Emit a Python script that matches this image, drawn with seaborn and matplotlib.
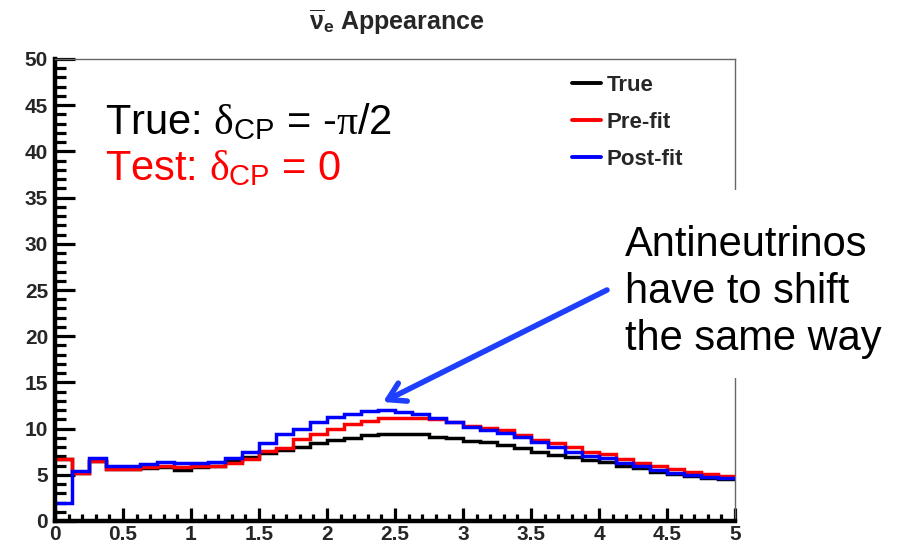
import numpy as np
import pandas as pd
import matplotlib
matplotlib.use("Agg")
import matplotlib.pyplot as plt
import seaborn as sns
from matplotlib.ticker import MultipleLocator
from matplotlib.patches import Rectangle
from matplotlib.lines import Line2D

# ---------------- data ----------------
bin_width = 0.125
x_range = (0.0, 5.0)
true_counts = [6.7, 5.2, 6.5, 5.6, 5.6, 5.7, 5.8, 5.5, 5.8, 6.0,
               6.5, 6.9, 7.4, 7.7, 8.0, 8.4, 8.8, 9.0, 9.3, 9.4,
               9.4, 9.4, 9.1, 9.0, 8.7, 8.5, 8.2, 7.9, 7.5, 7.1,
               6.9, 6.6, 6.4, 5.9, 5.7, 5.3, 5.1, 4.9, 4.6, 4.5]
prefit_counts = [6.7, 5.2, 6.5, 5.6, 5.6, 5.8, 6.0, 5.8, 5.9, 5.9,
                 6.3, 6.7, 7.6, 7.9, 8.9, 9.4, 10.0, 10.5, 10.8, 11.2,
                 11.1, 11.1, 11.0, 10.7, 10.3, 10.1, 9.8, 9.3, 8.8, 8.4,
                 8.0, 7.5, 7.2, 6.7, 6.3, 5.9, 5.6, 5.3, 5.1, 4.9]
postfit_counts = [1.9, 5.4, 6.8, 6.0, 6.0, 6.2, 6.4, 6.3, 6.3, 6.4,
                  6.8, 7.5, 8.4, 9.4, 10.0, 10.7, 11.3, 11.6, 11.9, 12.0,
                  11.8, 11.6, 11.2, 10.7, 10.2, 9.9, 9.5, 9.1, 8.5, 8.0,
                  7.5, 7.0, 6.8, 6.3, 5.9, 5.5, 5.2, 5.0, 4.8, 4.7]
series_names = ["True", "Pre-fit", "Post-fit"]
series_colors = ["#000000", "#ff0000", "#0000ff"]
x_ticks = [0, 0.5, 1, 1.5, 2, 2.5, 3, 3.5, 4, 4.5, 5]
x_tick_labels = ["0", "0.5", "1", "1.5", "2", "2.5", "3", "3.5", "4", "4.5", "5"]
y_ticks = [0, 5, 10, 15, 20, 25, 30, 35, 40, 45, 50]
y_tick_labels = [str(v) for v in y_ticks]

n_bins = len(true_counts)
centers = x_range[0] + bin_width * (np.arange(n_bins) + 0.5)
df = pd.concat([
    pd.DataFrame({"energy": centers, "events": vals, "series": name})
    for name, vals in zip(series_names, [true_counts, prefit_counts, postfit_counts])
], ignore_index=True)

# ---------------- style ----------------
sns.set_theme(style="white")
plt.rcParams["font.family"] = ["Liberation Sans", "DejaVu Sans"]
plt.rcParams["mathtext.fontset"] = "custom"
plt.rcParams["mathtext.rm"] = "Liberation Sans"
plt.rcParams["mathtext.it"] = "Liberation Serif"
plt.rcParams["mathtext.bf"] = "Liberation Sans:bold"

W, H = 907, 545
fig = plt.figure(figsize=(W / 100, H / 100), dpi=100)
ax = fig.add_axes([55 / W, 1 - 521 / H, (735 - 55) / W, (521 - 59) / H])

for name, color in zip(series_names, series_colors):
    sub = df[df["series"] == name]
    sns.histplot(data=sub, x="energy", weights="events", binwidth=bin_width,
                 binrange=x_range, element="step", fill=False, color=color,
                 linewidth=2.5, ax=ax)

for line in ax.lines:
    line.set_solid_joinstyle("miter")

ax.set_xlim(0, 5)
ax.set_ylim(0, 50)
ax.set_xlabel("")
ax.set_ylabel("")

ax.set_xticks(x_ticks)
ax.set_xticklabels(x_tick_labels, fontweight="bold", fontsize=15)
ax.set_yticks(y_ticks)
ax.set_yticklabels(y_tick_labels, fontweight="bold", fontsize=15)
ax.xaxis.set_minor_locator(MultipleLocator(0.1))
ax.yaxis.set_minor_locator(MultipleLocator(1))
ax.tick_params(axis="both", which="both", direction="in", color="black",
               top=False, right=False, bottom=True, left=True, width=2.3)
ax.tick_params(axis="y", which="major", length=14.5, pad=5)
ax.tick_params(axis="y", which="minor", length=8)
ax.tick_params(axis="x", which="major", length=9.5, pad=3)
ax.tick_params(axis="x", which="minor", length=5)

for s in ["left", "bottom"]:
    ax.spines[s].set_color("black")
    ax.spines[s].set_linewidth(3.2)
for s in ["top", "right"]:
    ax.spines[s].set_color("#666666")
    ax.spines[s].set_linewidth(1)

# title
fig.text(397 / W, 1 - 30 / H, r"$\overline{\mathbf{\nu}}_{\mathbf{e}}$ Appearance",
         ha="center", va="baseline", fontsize=18, fontweight="bold")

# legend
handles = [Line2D([], [], color=c, lw=2.8) for c in series_colors]
leg = ax.legend(handles, series_names, loc="upper left",
                bbox_to_anchor=(561 / W, 1 - 64 / H), bbox_transform=fig.transFigure,
                frameon=False, borderpad=0, handlelength=1.3, handletextpad=0.25,
                labelspacing=0.72, prop={"weight": "bold", "size": 16})

# big labels
fig.text(105 / W, 1 - 134 / H, r"True: $\delta_{\mathrm{CP}}$ = -$\pi$/2",
         ha="left", va="baseline", fontsize=30, color="black")
fig.text(105 / W, 1 - 180 / H, r"Test: $\delta_{\mathrm{CP}}$ = 0",
         ha="left", va="baseline", fontsize=30, color="#ff0000")

# white box behind the annotation text
fig.patches.append(Rectangle((615 / W, 1 - 378 / H), (905 - 615) / W, (378 - 190) / H,
                             transform=fig.transFigure, facecolor="white",
                             edgecolor="none", zorder=5))
fig.text(625 / W, 1 - 225 / H, "Antineutrinos\nhave to shift\nthe same way",
         ha="left", va="top", fontsize=30, color="black",
         linespacing=1.22, zorder=6)

ax.annotate("", xy=(383, H - 402), xytext=(607, H - 290),
            xycoords="figure pixels", textcoords="figure pixels",
            arrowprops=dict(arrowstyle="->,head_length=1.0,head_width=0.6",
                            lw=4, color="#1f3fff", shrinkA=0, shrinkB=0),
            annotation_clip=False, zorder=7)

fig.savefig("out.png", dpi=100, facecolor="white")
